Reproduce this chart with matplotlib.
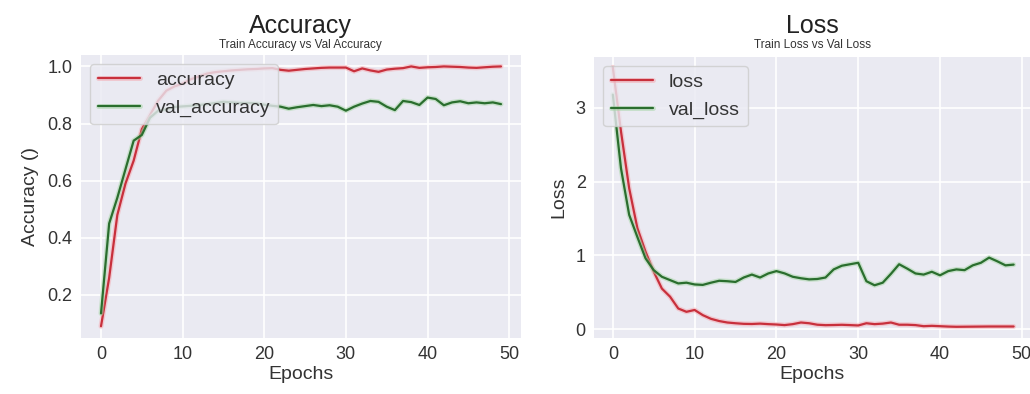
import matplotlib
matplotlib.use("Agg")
import matplotlib.pyplot as plt
import matplotlib.patheffects as pe
import numpy as np

plt.style.use("seaborn-v0_8-darkgrid")
plt.rcParams['font.family'] = ['Liberation Sans', 'DejaVu Sans']

epochs = list(range(50))

accuracy = [0.09, 0.26, 0.48, 0.59, 0.67, 0.78, 0.83, 0.88, 0.915, 0.93,
            0.94, 0.955, 0.965, 0.975, 0.98, 0.983, 0.986, 0.988, 0.99, 0.991,
            0.993, 0.994, 0.988, 0.985, 0.988, 0.991, 0.993, 0.995, 0.996, 0.996,
            0.996, 0.983, 0.993, 0.986, 0.981, 0.989, 0.992, 0.994, 1.0, 0.995,
            0.997, 0.998, 1.0, 0.999, 0.998, 0.996, 0.995, 0.997, 0.999, 1.0]

val_accuracy = [0.135, 0.45, 0.54, 0.64, 0.74, 0.76, 0.82, 0.845, 0.85, 0.858,
                0.86, 0.862, 0.865, 0.868, 0.872, 0.876, 0.874, 0.872, 0.872, 0.871,
                0.866, 0.862, 0.859, 0.852, 0.857, 0.861, 0.865, 0.861, 0.864, 0.859,
                0.845, 0.859, 0.87, 0.879, 0.876, 0.859, 0.847, 0.879, 0.875, 0.865,
                0.891, 0.886, 0.864, 0.874, 0.878, 0.871, 0.874, 0.871, 0.874, 0.868]

loss = [3.55, 2.68, 1.91, 1.37, 1.05, 0.78, 0.55, 0.44, 0.28, 0.235,
        0.26, 0.19, 0.14, 0.11, 0.09, 0.08, 0.072, 0.07, 0.075, 0.068,
        0.063, 0.055, 0.068, 0.09, 0.08, 0.06, 0.054, 0.056, 0.059, 0.055,
        0.05, 0.08, 0.068, 0.075, 0.09, 0.06, 0.06, 0.055, 0.04, 0.045,
        0.04, 0.035, 0.032, 0.033, 0.034, 0.035, 0.036, 0.036, 0.036, 0.036]

val_loss = [3.18, 2.18, 1.55, 1.25, 0.96, 0.80, 0.71, 0.665, 0.62, 0.63,
            0.606, 0.60, 0.63, 0.656, 0.65, 0.64, 0.70, 0.74, 0.70, 0.755,
            0.787, 0.756, 0.71, 0.69, 0.675, 0.68, 0.70, 0.81, 0.86, 0.88,
            0.90, 0.65, 0.595, 0.63, 0.75, 0.88, 0.82, 0.755, 0.74, 0.778,
            0.73, 0.787, 0.81, 0.80, 0.865, 0.90, 0.97, 0.92, 0.865, 0.875]

W, H = 1030, 394
fig = plt.figure(figsize=(W / 100, H / 100), dpi=100)
fig.patch.set_facecolor('white')

def frac(x0, y0, x1, y1):
    return [x0 / W, 1 - y1 / H, (x1 - x0) / W, (y1 - y0) / H]

RED = '#c8303c'
GREEN = '#2a6e2e'
halo_r = [pe.Stroke(linewidth=3.6, foreground='#f4a8b0', alpha=0.5), pe.Normal()]
halo_g = [pe.Stroke(linewidth=3.6, foreground='#a6d6a6', alpha=0.5), pe.Normal()]

ax1 = fig.add_axes(frac(81, 55, 521, 338))
ax2 = fig.add_axes(frac(594, 57, 1030, 338))

ax1.plot(epochs, accuracy, color=RED, lw=1.6, label='accuracy', path_effects=halo_r)
ax1.plot(epochs, val_accuracy, color=GREEN, lw=1.6, label='val_accuracy', path_effects=halo_g)
ax1.set_xlim(-2.45, 51.45)
ax1.set_ylim(0.049, 1.04)
ax1.set_yticks([0.2, 0.4, 0.6, 0.8, 1.0])
ax1.set_xticks([0, 10, 20, 30, 40, 50])
ax1.set_xlabel('Epochs', fontsize=14, labelpad=2)
ax1.set_ylabel('Accuracy ()', fontsize=14, labelpad=6)

ax2.plot(epochs, loss, color=RED, lw=1.6, label='loss', path_effects=halo_r)
ax2.plot(epochs, val_loss, color=GREEN, lw=1.6, label='val_loss', path_effects=halo_g)
ax2.set_xlim(-2.3, 51.0)
ax2.set_ylim(-0.12, 3.69)
ax2.set_yticks([0, 1, 2, 3])
ax2.set_xticks([0, 10, 20, 30, 40, 50])
ax2.set_xlabel('Epochs', fontsize=14, labelpad=2)
ax2.set_ylabel('Loss', fontsize=14, labelpad=6)

for ax in (ax1, ax2):
    ax.set_facecolor('#EAEAF2')
    ax.grid(True, color='white', lw=1.2)
    ax.tick_params(labelsize=13, colors='#333333', length=0, pad=6)
    for s in ax.spines.values():
        s.set_visible(False)
    ax.xaxis.label.set_color('#333333')
    ax.yaxis.label.set_color('#333333')
    leg = ax.legend(loc='upper left', fontsize=14, handlelength=2.2,
                    frameon=True, framealpha=0.8, borderaxespad=0.45)
    leg.get_frame().set_facecolor('#EAEAF2')
    leg.get_frame().set_edgecolor('#cccccc')
    for t in leg.get_texts():
        t.set_color('#333333')

fig.text(300 / W, 1 - 33 / H, 'Accuracy', fontsize=18, ha='center', va='baseline', color='#222222')
fig.text(300 / W, 1 - 48 / H, 'Train Accuracy vs Val Accuracy', fontsize=8.5, ha='center', va='baseline', color='#333333')
fig.text(812 / W, 1 - 33 / H, 'Loss', fontsize=18, ha='center', va='baseline', color='#222222')
fig.text(812 / W, 1 - 48 / H, 'Train Loss vs Val Loss', fontsize=8.5, ha='center', va='baseline', color='#333333')

fig.savefig('out.png', dpi=100)
